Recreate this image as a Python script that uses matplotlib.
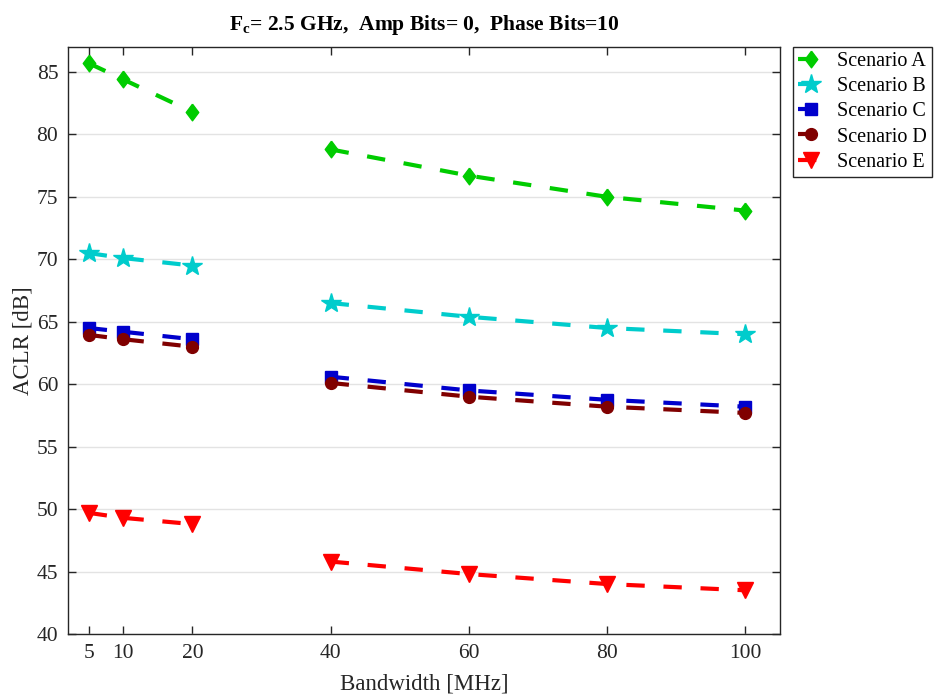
import numpy as np
import matplotlib
matplotlib.use("Agg")
import matplotlib.pyplot as plt
from matplotlib.legend_handler import HandlerLine2D

plt.rcParams["font.family"] = ["Liberation Serif", "DejaVu Serif"]
plt.rcParams["mathtext.fontset"] = "custom"
plt.rcParams["mathtext.rm"] = "Liberation Serif"
plt.rcParams["mathtext.bf"] = "Liberation Serif:bold"

# Bandwidths [MHz]: narrow group and wide group are drawn as separate runs
bw_narrow = [5, 10, 20]
bw_wide = [40, 60, 80, 100]
xticks = [5, 10, 20, 40, 60, 80, 100]

scenarios = ["Scenario A", "Scenario B", "Scenario C", "Scenario D", "Scenario E"]

aclr_a = [85.7, 84.4, 81.8, 78.8, 76.7, 75.0, 73.9]
aclr_b = [70.5, 70.1, 69.5, 66.5, 65.4, 64.5, 64.0]
aclr_c = [64.5, 64.2, 63.6, 60.6, 59.5, 58.75, 58.2]
aclr_d = [63.95, 63.6, 63.0, 60.1, 59.0, 58.2, 57.7]
aclr_e = [49.7, 49.3, 48.8, 45.8, 44.8, 44.0, 43.5]
series = [aclr_a, aclr_b, aclr_c, aclr_d, aclr_e]

colors = ["#00cc00", "#00cccc", "#0000cc", "#800000", "#ff0000"]
diamond = [(0, 1), (0.75, 0), (0, -1), (-0.75, 0), (0, 1)]
markers = [diamond, "*", "s", "o", "v"]
msizes = [12, 15, 8, 8.5, 11]


class EndMarkerHandler(HandlerLine2D):
    """Legend entry with a short line and the marker at its right end."""

    def get_xdata(self, legend, xdescent, ydescent, width, height, fontsize):
        xdata, _ = super().get_xdata(legend, xdescent, ydescent, width, height, fontsize)
        return xdata, np.array([xdata[-1]])


fig = plt.figure(figsize=(9.36, 6.95), dpi=100)
ax = fig.add_axes([68 / 936, 1 - 634 / 695, (780 - 68) / 936, (634 - 47) / 695])

handles = []
n1 = len(bw_narrow)
for name, vals, c, m, ms in zip(scenarios, series, colors, markers, msizes):
    style = dict(color=c, marker=m, markersize=ms, linewidth=3,
                 linestyle=(0, (4.4, 4.5)), dash_capstyle="butt",
                 markeredgecolor=c, markerfacecolor=c)
    h, = ax.plot(bw_narrow, vals[:n1], label=name, **style)
    ax.plot(bw_wide, vals[n1:], **style)
    handles.append(h)

ax.set_xlim(2, 105)
ax.set_ylim(40, 87)
ax.set_xticks(xticks)
ax.set_yticks(np.arange(40, 86, 5))

ax.grid(axis="y", color="#e3e3e3", linewidth=1)
ax.set_axisbelow(True)

axis_color = "#262626"
for s in ax.spines.values():
    s.set_color(axis_color)
    s.set_linewidth(1)
ax.tick_params(direction="in", length=6, width=1, color=axis_color,
               labelcolor=axis_color, labelsize=15.5, top=True, right=True, pad=7)

ax.set_xlabel("Bandwidth [MHz]", fontsize=16.5, color=axis_color, labelpad=8)
ax.set_ylabel("ACLR [dB]", fontsize=16.5, color=axis_color, labelpad=2)
ax.set_title(r"$\mathbf{F_c}$= 2.5 GHz,  Amp Bits= 0,  Phase Bits=10",
             fontsize=15.5, fontweight="bold", pad=12)

leg = fig.legend(handles=handles, loc="upper left",
                 bbox_to_anchor=(793 / 936, 1 - 47 / 695),
                 fontsize=14.5, handlelength=1.3, handletextpad=0.65,
                 labelspacing=0.3, borderpad=0.25, borderaxespad=0,
                 fancybox=False, framealpha=1, edgecolor=axis_color,
                 handler_map={h: EndMarkerHandler() for h in handles})
leg.get_frame().set_linewidth(1)

fig.savefig("out.png", dpi=100)
